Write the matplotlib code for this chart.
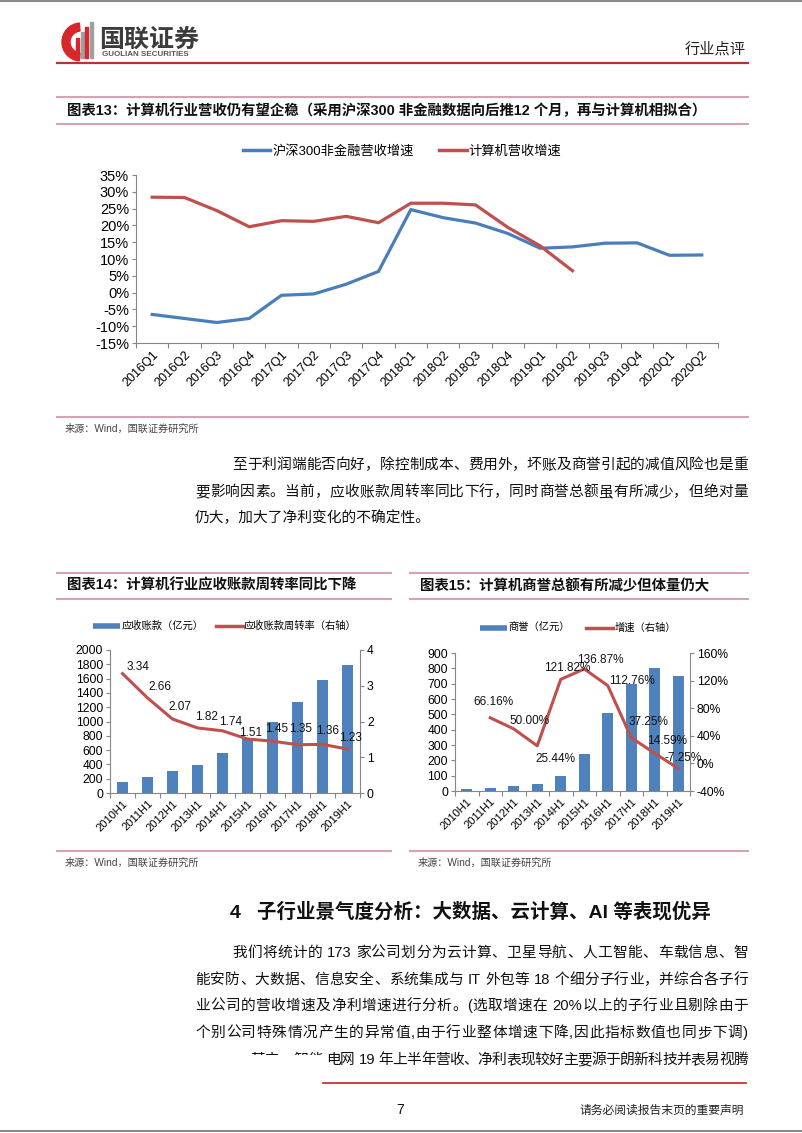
import re

import numpy as np
import matplotlib
matplotlib.use("Agg")
import matplotlib.pyplot as plt
from matplotlib.lines import Line2D
from matplotlib.patches import Wedge, Rectangle
from matplotlib.ticker import FuncFormatter, MultipleLocator

plt.rcParams["font.family"] = ["Liberation Sans", "Noto Sans CJK SC", "DejaVu Sans"]
plt.rcParams["axes.unicode_minus"] = False

W, H = 802, 1133

# ---- 图表13 ----
quarters = ["2016Q1", "2016Q2", "2016Q3", "2016Q4", "2017Q1", "2017Q2", "2017Q3", "2017Q4",
            "2018Q1", "2018Q2", "2018Q3", "2018Q4", "2019Q1", "2019Q2", "2019Q3", "2019Q4",
            "2020Q1", "2020Q2"]
hs300_growth = [-6.5, -7.7, -8.9, -7.7, -0.8, -0.4, 2.5, 6.3, 24.7, 22.3, 20.7, 17.6,
                13.2, 13.6, 14.7, 14.8, 11.1, 11.2]
computer_growth = [28.4, 28.3, 24.4, 19.6, 21.4, 21.2, 22.7, 20.8, 26.6, 26.6, 26.1, 19.4,
                   13.9, 6.5, np.nan, np.nan, np.nan, np.nan]

# ---- 图表14 ----
halfyears = ["2010H1", "2011H1", "2012H1", "2013H1", "2014H1", "2015H1", "2016H1",
             "2017H1", "2018H1", "2019H1"]
receivables = [155, 225, 305, 390, 558, 765, 1000, 1275, 1585, 1785]
turnover = [3.34, 2.66, 2.07, 1.82, 1.74, 1.51, 1.45, 1.35, 1.36, 1.23]

# ---- 图表15 ----
goodwill = [12, 22, 34, 45, 99, 239, 510, 698, 805, 747]
goodwill_growth = [np.nan, 66.16, 50.00, 25.44, 121.82, 136.87, 112.76, 37.25, 14.59, -7.25]

BLUE = "#4A7EBB"
BAR_BLUE = "#4F81BD"
RED = "#C0504D"
PINK = "#D9A2B3"
SPINE = "#868686"
CJK = ["Noto Sans CJK SC", "DejaVu Sans"]
BODY = ["Liberation Sans", "Noto Sans CJK SC"]


def rect(x0, y0, x1, y1):
    return [x0 / W, 1 - y1 / H, (x1 - x0) / W, (y1 - y0) / H]


def style_axes(ax, n, fs=8):
    for s in ["top", "right"]:
        ax.spines[s].set_visible(False)
    for s in ["left", "bottom"]:
        ax.spines[s].set_color(SPINE)
        ax.spines[s].set_linewidth(0.8)
    ax.set_xlim(-0.5, n - 0.5)
    ax.set_xticks(np.arange(n + 1) - 0.5)
    ax.set_xticklabels([])
    ax.tick_params(axis="x", which="major", length=3.5, color=SPINE, width=0.8)
    ax.tick_params(axis="y", length=3, color=SPINE, width=0.8, labelsize=fs, pad=2)


def cat_labels(ax, labels, fs):
    ax.set_xticks(np.arange(len(labels)), minor=True)
    ax.set_xticklabels(labels, minor=True, rotation=45, ha="right",
                       rotation_mode="anchor", fontsize=fs)
    ax.tick_params(axis="x", which="minor", length=0, pad=4)


def right_axis(ax):
    for s in ["top", "left", "bottom"]:
        ax.spines[s].set_visible(False)
    ax.spines["right"].set_color(SPINE)
    ax.spines["right"].set_linewidth(0.8)
    ax.tick_params(axis="y", length=3, color=SPINE, width=0.8, labelsize=8.7, pad=2)


fig = plt.figure(figsize=(W / 100, H / 100), dpi=100)
bg = fig.add_axes([0, 0, 1, 1])
bg.set_xlim(0, W)
bg.set_ylim(H, 0)
bg.axis("off")
renderer = fig.canvas.get_renderer()

# 页面边框
bg.plot([0, W], [1, 1], color="#8a8a8a", lw=1.5)
bg.plot([0, W], [H - 2, H - 2], color="#8a8a8a", lw=1.5)

# 页眉 logo
bg.add_patch(Wedge((81, 42), 19, 95, 265, width=8, color="#D7262C"))
for bx, top, col in zip([76, 80.5, 85, 89.5], [38, 32, 27, 22],
                        ["#D7262C", "#A0A0A0", "#D7262C", "#A0A0A0"]):
    bg.add_patch(Rectangle((bx, top), 3, 58 - top, color=col))
bg.text(99, 40, "国联证券", fontsize=18, fontweight="bold", color="#3C3C3C",
        va="center", family=CJK)
bg.text(102, 55, "GUOLIAN SECURITIES", fontsize=5.8, fontweight="bold", color="#555555",
        va="center")
bg.text(746, 49, "行业点评", fontsize=11, color="#222222", ha="right", va="center",
        family=CJK)
bg.plot([57, 748], [63, 63], color="#B5342F", lw=1.6)


def title_bar(x0, x1, ytop, ybot, text, fs=10):
    bg.plot([x0, x1], [ytop, ytop], color=PINK, lw=1.5)
    bg.plot([x0, x1], [ybot, ybot], color=PINK, lw=1.5)
    bg.text(x0 + 10, (ytop + ybot) / 2, text, fontsize=fs, fontweight="bold",
            color="#111111", va="center", family=BODY)


def source_bar(x0, x1, y):
    bg.plot([x0, x1], [y, y], color=PINK, lw=1.5)
    bg.text(x0 + 8, y + 12, "来源：Wind，国联证券研究所", fontsize=7.3, color="#444444",
            va="center", family=BODY)


title_bar(57, 748, 97, 124,
          "图表13：计算机行业营收仍有望企稳（采用沪深300 非金融数据向后推12 个月，再与计算机相拟合）",
          fs=10.4)
title_bar(57, 391, 573, 599, "图表14：计算机行业应收账款周转率同比下降", fs=10.4)
title_bar(410, 748, 573, 599, "图表15：计算机商誉总额有所减少但体量仍大", fs=10.4)
source_bar(57, 748, 417)
source_bar(57, 391, 851)
source_bar(410, 748, 851)

# ---- 图表13 绘制 ----
ax1 = fig.add_axes(rect(136, 175, 718, 343))
n1 = len(quarters)
x1 = np.arange(n1)
ax1.plot(x1, hs300_growth, color=BLUE, lw=2.3, solid_joinstyle="miter")
ax1.plot(x1, computer_growth, color=RED, lw=2.3, solid_joinstyle="miter")
style_axes(ax1, n1, fs=10.5)
ax1.set_ylim(-15, 35)
ax1.yaxis.set_major_locator(MultipleLocator(5))
ax1.yaxis.set_major_formatter(FuncFormatter(lambda v, p: f"{v:.0f}%"))
cat_labels(ax1, quarters, 9)
h13 = [Line2D([], [], color=BLUE, lw=2.5), Line2D([], [], color=RED, lw=2.5)]
fig.legend(h13, ["沪深300非金融营收增速", "计算机营收增速"], loc="center",
           bbox_to_anchor=(402 / W, 1 - 151 / H), ncol=2, frameon=False,
           handlelength=2.1, handletextpad=0.15, columnspacing=1.9,
           prop={"family": BODY, "size": 9.5})

# ---- 图表14 绘制 ----
ax2 = fig.add_axes(rect(110, 650, 360, 793))
n2 = len(halfyears)
x2 = np.arange(n2)
ax2.bar(x2, receivables, width=0.42, color=BAR_BLUE, zorder=2)
style_axes(ax2, n2, fs=8.7)
ax2.set_ylim(0, 2000)
ax2.yaxis.set_major_locator(MultipleLocator(200))
cat_labels(ax2, halfyears, 8)
ax2r = ax2.twinx()
ax2r.plot(x2, turnover, color=RED, lw=2.2, zorder=3)
ax2r.set_ylim(0, 4)
ax2r.yaxis.set_major_locator(MultipleLocator(1))
right_axis(ax2r)
off14 = [(15, 7), (12, 11), (7, 12), (9, 11), (8, 9), (3, 6), (4, 12), (3, 16), (5, 13), (3, 11)]
for xi, v, (dx, dy) in zip(x2, turnover, off14):
    ax2r.annotate(f"{v:.2f}", (xi, v), xytext=(dx * 0.72, dy * 0.72),
                  textcoords="offset points", ha="center", va="center", fontsize=8.5,
                  color="#111111", zorder=4)
h14 = [Line2D([], [], color=BAR_BLUE, lw=4, solid_capstyle="butt"),
       Line2D([], [], color=RED, lw=2.5)]
fig.legend(h14, ["应收账款（亿元）", "应收账款周转率（右轴）"], loc="center",
           bbox_to_anchor=(225 / W, 1 - 626 / H), ncol=2, frameon=False,
           handlelength=2.6, handletextpad=0.15, columnspacing=1.2,
           prop={"family": CJK, "size": 7.4})

# ---- 图表15 绘制 ----
ax3 = fig.add_axes(rect(455, 653, 690, 791))
ax3.bar(x2, goodwill, width=0.45, color=BAR_BLUE, zorder=2)
style_axes(ax3, n2, fs=8.7)
ax3.set_ylim(0, 900)
ax3.yaxis.set_major_locator(MultipleLocator(100))
cat_labels(ax3, halfyears, 8)
ax3r = ax3.twinx()
ax3r.plot(x2, goodwill_growth, color=RED, lw=2.2, zorder=3)
ax3r.set_ylim(-40, 160)
ax3r.yaxis.set_major_locator(MultipleLocator(40))
ax3r.yaxis.set_major_formatter(FuncFormatter(lambda v, p: f"{v:.0f}%"))
right_axis(ax3r)
off15 = [(0, 0), (3, 16), (16, 8), (18, -13), (6, 11), (16, 9), (24, 5), (17, 16), (12, 12), (5, 10)]
for xi, v, (dx, dy) in zip(x2, goodwill_growth, off15):
    if np.isnan(v):
        continue
    ax3r.annotate(f"{v:.2f}%", (xi, v), xytext=(dx * 0.72, dy * 0.72),
                  textcoords="offset points", ha="center", va="center", fontsize=8.5,
                  color="#111111", zorder=4)
h15 = [Line2D([], [], color=BAR_BLUE, lw=4, solid_capstyle="butt"),
       Line2D([], [], color=RED, lw=2.5)]
fig.legend(h15, ["商誉（亿元）", "增速（右轴）"], loc="center",
           bbox_to_anchor=(578 / W, 1 - 628 / H), ncol=2, frameon=False,
           handlelength=2.6, handletextpad=0.15, columnspacing=1.6,
           prop={"family": CJK, "size": 7.4})


# ---- 正文 ----
BODY_FS = 10.6


def body(x, y, s):
    return bg.text(x, y, s, fontsize=BODY_FS, color="#111111", va="center", family=BODY)


def body_justified(x0, x1, y, s):
    """按 token 均匀拉伸到 [x0, x1]，西文与数字前后的空格保留。"""
    tokens = re.findall(r" ?[A-Za-z0-9%.]+ ?|.", s)
    arts, widths = [], []
    for t in tokens:
        a = body(0, y, t.strip())
        w = a.get_window_extent(renderer).width
        pad_l = 4.0 if t.startswith(" ") else 0.0
        pad_r = 4.0 if t.endswith(" ") else 0.0
        arts.append((a, pad_l))
        widths.append(w + pad_l + pad_r)
    gap = (x1 - x0 - sum(widths)) / max(len(tokens) - 1, 1)
    x = x0
    for (a, pad_l), w in zip(arts, widths):
        a.set_x(x + pad_l)
        x += w + gap


body_justified(232, 748, 465, "至于利润端能否向好，除控制成本、费用外，坏账及商誉引起的减值风险也是重")
body_justified(195, 748, 492, "要影响因素。当前，应收账款周转率同比下行，同时商誉总额虽有所减少，但绝对量")
body(195, 518, "仍大，加大了净利变化的不确定性。")

bg.text(230, 912, "4   子行业景气度分析：大数据、云计算、AI 等表现优异", fontsize=14,
        fontweight="bold", color="#111111", va="center", family=BODY)

body_justified(232, 748, 953, "我们将统计的 173 家公司划分为云计算、卫星导航、人工智能、车载信息、智")
body_justified(195, 748, 980, "能安防、大数据、信息安全、系统集成与 IT 外包等 18 个细分子行业，并综合各子行")
body_justified(195, 748, 1006, "业公司的营收增速及净利增速进行分析。(选取增速在 20%以上的子行业且剔除由于")
body_justified(195, 748, 1033, "个别公司特殊情况产生的异常值,由于行业整体增速下降,因此指标数值也同步下调)")
partial = body(250, 1060, "其中，智能")
clip = Rectangle((240, 1040), 90, 15, transform=bg.transData)
partial.set_clip_on(True)
partial.set_clip_path(clip)
body_justified(326, 748, 1060, "电网 19 年上半年营收、净利表现较好主要源于朗新科技并表易视腾")

# 页脚
bg.plot([323, 746], [1083, 1083], color="#CC1F1F", lw=1.2)
bg.text(400, 1110, "7", fontsize=10, color="#111111", ha="center", va="center")
bg.text(744, 1110, "请务必阅读报告末页的重要声明", fontsize=8.5, color="#222222",
        ha="right", va="center", family=CJK)

fig.savefig("out.png", dpi=100)
plt.close(fig)
